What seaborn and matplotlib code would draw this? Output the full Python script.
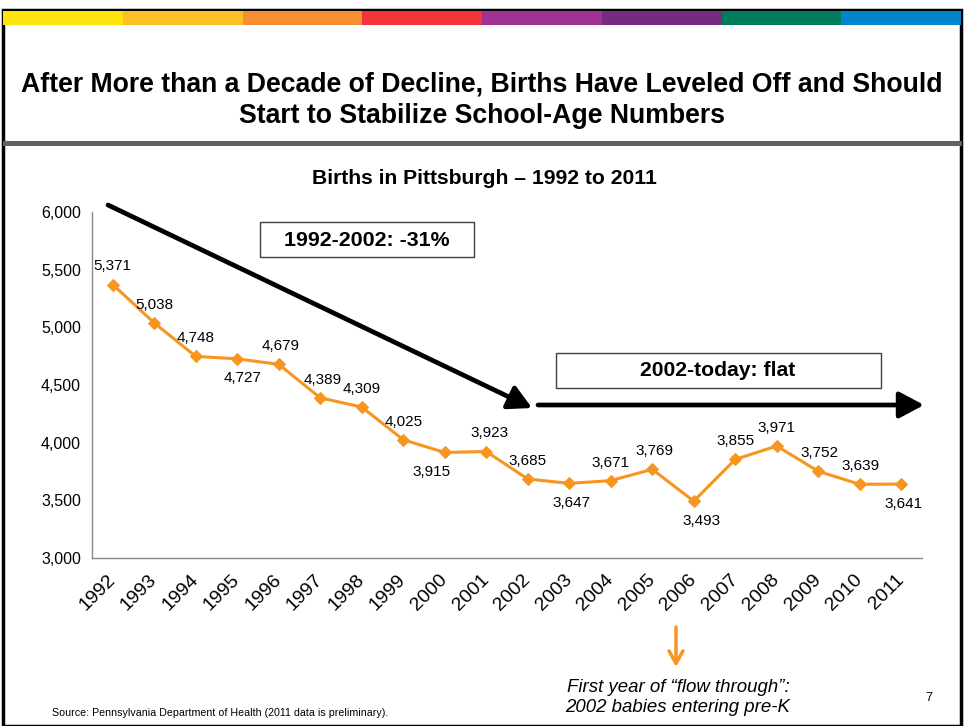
import matplotlib
matplotlib.use("Agg")
import matplotlib.pyplot as plt
import seaborn as sns
import pandas as pd
from matplotlib.patches import Rectangle, FancyArrowPatch, ArrowStyle
from matplotlib.ticker import FixedLocator, FuncFormatter

years = [str(y) for y in range(1992, 2012)]
births = [5371, 5038, 4748, 4727, 4679, 4389, 4309, 4025, 3915, 3923,
          3685, 3647, 3671, 3769, 3493, 3855, 3971, 3752, 3639, 3641]
label_below = [False, False, False, True, False, False, False, False, True, False,
               False, True, False, False, True, False, False, False, False, True]
label_dx = [0, 0, 0, 5, 2, 2, 0, 0, -13, 3, 0, 2, 0, 2, 8, 0, 0, 1, 1, 2]
yticks = [3000, 3500, 4000, 4500, 5000, 5500, 6000]
bar_colors = ["#FDE310", "#FDC126", "#F68E32", "#F1353A", "#A03391", "#772A82", "#007C5C", "#0086CC"]

sns.set_style("white")
plt.rcParams["font.family"] = ["Liberation Sans", "DejaVu Sans"]
plt.rcParams["text.color"] = "black"
plt.rcParams["xtick.color"] = "black"
plt.rcParams["ytick.color"] = "black"

W, H = 964, 726
fig = plt.figure(figsize=(W / 100, H / 100), dpi=100)

def fx(px):
    return px / W

def fy(py):
    return 1 - py / H

ax = fig.add_axes([fx(92), fy(558), fx(922) - fx(92), fy(212) - fy(558)])

df = pd.DataFrame({"year": years, "births": births})
orange = "#F7951E"
sns.lineplot(data=df, x="year", y="births", ax=ax, color=orange, linewidth=2.2,
             marker="D", markersize=6.5, markeredgecolor=orange, sort=False)

ax.set_xlim(-0.5, len(years) - 0.5)
ax.set_ylim(3000, 6000)
ax.set_xlabel("")
ax.set_ylabel("")
ax.yaxis.set_major_locator(FixedLocator(yticks))
ax.yaxis.set_major_formatter(FuncFormatter(lambda v, p: f"{int(v):,}"))
ax.xaxis.set_major_locator(FixedLocator(range(len(years))))
ax.set_xticklabels(years, rotation=45, ha="right", va="center", rotation_mode="anchor", fontsize=14)
ax.xaxis.set_minor_locator(FixedLocator([i - 0.5 for i in range(len(years) + 1)]))
ax.tick_params(axis="x", which="major", length=0, pad=14, labelcolor="black")
ax.tick_params(axis="x", which="minor", length=5, width=1, color="#888888", direction="out")
ax.tick_params(axis="y", which="major", length=5, width=1, color="#888888", direction="out",
               labelsize=11.5, pad=3, labelcolor="black")
for s in ["top", "right"]:
    ax.spines[s].set_visible(False)
for s in ["left", "bottom"]:
    ax.spines[s].set_color("#888888")
    ax.spines[s].set_linewidth(1)
ax.grid(False)

for i, (v, below) in enumerate(zip(births, label_below)):
    ax.annotate(f"{v:,}", xy=(i, v), xytext=(label_dx[i] * 0.72, -14 if below else 13),
                textcoords="offset points", ha="center", va="center", fontsize=11, color="black")

# slide frame
fig.add_artist(Rectangle((fx(2.5), 0), fx(961) - fx(2.5), fy(10), transform=fig.transFigure,
                         fill=False, edgecolor="black", linewidth=2.5))
seg = (961 - 3) / len(bar_colors)
for k, c in enumerate(bar_colors):
    fig.add_artist(Rectangle((fx(3 + k * seg), fy(25)), fx(seg), fy(11) - fy(25),
                             transform=fig.transFigure, facecolor=c, edgecolor="none"))
fig.add_artist(Rectangle((fx(3), fy(146)), fx(959), fy(141) - fy(146), transform=fig.transFigure,
                         facecolor="#6A5E5C", edgecolor="none"))

fig.text(0.5, fy(84), "After More than a Decade of Decline, Births Have Leveled Off and Should",
         ha="center", va="center", fontsize=19.2, fontweight="bold", color="black")
fig.text(0.5, fy(116), "Start to Stabilize School-Age Numbers",
         ha="center", va="center", fontsize=19.2, fontweight="bold", color="black")
fig.text(fx(484), fy(178), "Births in Pittsburgh \u2013 1992 to 2011",
         ha="center", va="center", fontsize=15.2, fontweight="bold", color="black")

# black arrows
a1 = FancyArrowPatch((fx(108), fy(205)), (fx(532), fy(408)), transform=fig.transFigure,
                     arrowstyle=ArrowStyle("-|>", head_length=14, head_width=7.5),
                     mutation_scale=1, linewidth=3.4, color="black", shrinkA=0, shrinkB=0)
fig.add_artist(a1)
a2 = FancyArrowPatch((fx(538), fy(405)), (fx(924), fy(405)), transform=fig.transFigure,
                     arrowstyle=ArrowStyle("-|>", head_length=15, head_width=8),
                     mutation_scale=1, linewidth=3.4, color="black", shrinkA=0, shrinkB=0)
fig.add_artist(a2)

# annotation boxes
fig.add_artist(Rectangle((fx(260), fy(257)), fx(474) - fx(260), fy(222) - fy(257),
                         transform=fig.transFigure, facecolor="white", edgecolor="#404040", linewidth=1))
fig.text(fx(367), fy(240), "1992-2002: -31%", ha="center", va="center", fontsize=15.4,
         fontweight="bold", color="black")
fig.add_artist(Rectangle((fx(556), fy(388)), fx(881) - fx(556), fy(353) - fy(388),
                         transform=fig.transFigure, facecolor="white", edgecolor="#404040", linewidth=1))
fig.text(fx(718), fy(371), "2002-today: flat", ha="center", va="center", fontsize=15.2,
         fontweight="bold", color="black")

# orange down arrow
a3 = FancyArrowPatch((fx(676), fy(627)), (fx(676), fy(667)), transform=fig.transFigure,
                     arrowstyle=ArrowStyle("->", head_length=9, head_width=5),
                     mutation_scale=1, linewidth=2.5, color=orange, shrinkA=0, shrinkB=0)
fig.add_artist(a3)
fig.text(fx(678), fy(688), "First year of \u201cflow through\u201d:", ha="center", va="center",
         fontsize=13.4, style="italic", color="black")
fig.text(fx(678), fy(708), "2002 babies entering pre-K", ha="center", va="center",
         fontsize=13.4, style="italic", color="black")
fig.text(fx(929), fy(698), "7", ha="center", va="center", fontsize=9, color="black")
fig.text(fx(52), fy(713), "Source: Pennsylvania Department of Health (2011 data is preliminary).",
         ha="left", va="center", fontsize=7.7, color="black")

fig.savefig("out.png", dpi=100)
